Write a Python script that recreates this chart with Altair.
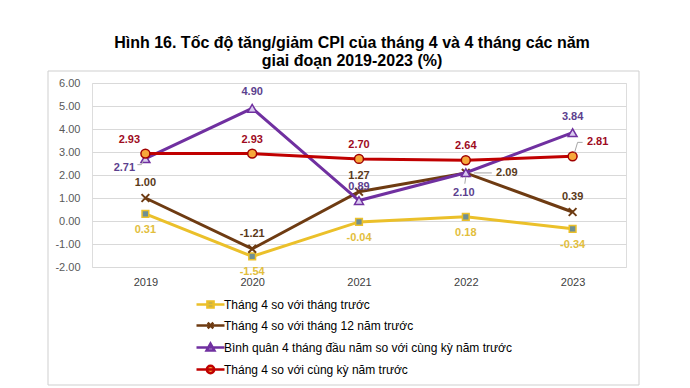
import altair as alt
import pandas as pd

years = ["2019", "2020", "2021", "2022", "2023"]
series_names = [
    "Tháng 4 so với tháng trước",
    "Tháng 4 so với tháng 12 năm trước",
    "Bình quân 4 tháng đầu năm so với cùng kỳ năm trước",
    "Tháng 4 so với cùng kỳ năm trước",
]
s_month = [0.31, -1.54, -0.04, 0.18, -0.34]
s_dec = [1.00, -1.21, 1.27, 2.09, 0.39]
s_avg = [2.71, 4.90, 0.89, 2.10, 3.84]
s_yoy = [2.93, 2.93, 2.70, 2.64, 2.81]
y_ticks = [-2, -1, 0, 1, 2, 3, 4, 5, 6]

values = [s_month, s_dec, s_avg, s_yoy]
rows = []
for name, vals in zip(series_names, values):
    for yr, v in zip(years, vals):
        rows.append({"series": name, "year": yr, "value": v})
df = pd.DataFrame(rows)

line_colors = ["#EBC02A", "#6E3B12", "#7030A0", "#C00000"]
label_colors = ["#E2BE3C", "#5A3A1A", "#5C3F8E", "#9E0B1E"]
marker_fill = ["#6F8F93", "#6E3B12", "#D9CBEF", "#F7A83B"]
marker_stroke = ["#EBC02A", "#6E3B12", "#7030A0", "#A00000"]
marker_shape = ["square", "M-1,-1L1,1M-1,1L1,-1", "triangle-up", "circle"]
marker_size = [45, 60, 80, 80]
legend_paths = [
    "M-2,0L2,0M-0.44,-0.44H0.44V0.44H-0.44Z",
    "M-2,0L2,0M-0.4,-0.4L0.4,0.4M-0.4,0.4L0.4,-0.4",
    "M-2,0L2,0M0,-0.56L0.56,0.44L-0.56,0.44Z",
    "M-2,0L2,0M-0.52,0A0.52,0.52 0 1,0 0.52,0A0.52,0.52 0 1,0 -0.52,0Z",
]

FONT = "Liberation Sans"
xscale = alt.Scale(type="point", padding=0.5)
xenc = alt.X("year:N", scale=xscale,
             axis=alt.Axis(title=None, labelAngle=0, domain=False, ticks=False,
                           labelPadding=9, labelFontSize=11, labelColor="#404040",
                           labelFont=FONT, grid=False))
yscale = alt.Scale(domain=[-2, 6], nice=False, zero=False)
yenc = alt.Y("value:Q", scale=yscale,
             axis=alt.Axis(title=None, values=y_ticks, domain=False, ticks=False,
                           labelExpr="replace(format(datum.value, '.2f'), '\u2212', '-')",
                           labelPadding=12, labelFontSize=11, tickCount=9,
                           labelColor="#595959", labelFont=FONT, gridColor="#D9D9D9",
                           gridWidth=1, labelOverlap=False))

base = alt.Chart(df).transform_calculate(
    lbl="replace(format(datum.value, '.2f'), '\u2212', '-')"
)

layers = []

# axis carrier (gridlines)
axis_layer = base.mark_line(opacity=0).encode(x=xenc, y=yenc, detail="series:N")
layers.append(axis_layer)

# decorative frame around the figure, anchored to the plot's own scale ends
one = base.transform_filter(
    (alt.datum.series == series_names[0]) & (alt.datum.year == years[0]))
frame = one.mark_rect(filled=False, stroke="#CFCFCF", strokeWidth=1,
                      xOffset=-97.4, x2Offset=66.4, yOffset=-12, y2Offset=118).encode(
    x=alt.X(datum=years[0], type="nominal", scale=xscale),
    x2=alt.X2(datum=years[-1]),
    y=alt.Y(datum=max(y_ticks), type="quantitative", scale=yscale),
    y2=alt.Y2(datum=min(y_ticks)),
)
layers.append(frame)

for i, name in enumerate(series_names):
    sub = base.transform_filter(alt.datum.series == name)
    layers.append(sub.mark_line(color=line_colors[i], strokeWidth=3).encode(x=xenc, y=yenc))
    filled = i != 1
    pt = sub.mark_point(shape=marker_shape[i], size=marker_size[i], filled=filled,
                        fill=marker_fill[i] if filled else "transparent",
                        stroke=marker_stroke[i], strokeWidth=1.5 if filled else 2,
                        opacity=1).encode(x=xenc, y=yenc)
    layers.append(pt)

# leader lines
def leader(name, year, xo, x2o, yo, y2o):
    return base.transform_filter(
        (alt.datum.series == name) & (alt.datum.year == year)
    ).mark_rule(color="#A6A6A6", strokeWidth=1, xOffset=xo, x2Offset=x2o,
                yOffset=yo, y2Offset=y2o).encode(
        x=xenc, x2="year:N", y=yenc, y2="value:Q")

layers.append(leader(series_names[1], "2022", 8, 26, 0, 0))
layers.append(leader(series_names[2], "2022", 0, -1, 4, 11))
layers.append(leader(series_names[2], "2019", -8, -4, 6, 6))
layers.append(leader(series_names[2], "2019", -4, -2, 6, 2))
layers.append(leader(series_names[3], "2023", 2, 5, -4, -14))
layers.append(leader(series_names[3], "2023", 5, 10, -14, -14))

# data labels
def labels(i, dx, dy, only=None, exclude=()):
    f = alt.datum.series == series_names[i]
    if only is not None:
        f = f & (alt.datum.year == only)
    for ex in exclude:
        f = f & (alt.datum.year != ex)
    return base.transform_filter(f).mark_text(
        font=FONT, fontSize=11, fontWeight="bold", color=label_colors[i],
        dx=dx, dy=dy, baseline="middle", align="center"
    ).encode(x=xenc, y=yenc, text="lbl:N")

layers.append(labels(0, 0, 16))
layers.append(labels(1, 0, -15, exclude=["2022", "2021"]))
layers.append(labels(1, 0, -16, only="2021"))
layers.append(labels(1, 41, 0, only="2022"))
layers.append(labels(2, 0, -16, exclude=["2019", "2022", "2021"]))
layers.append(labels(2, 0, -14, only="2021"))
layers.append(labels(2, -21, 9, only="2019"))
layers.append(labels(2, -2, 20, only="2022"))
layers.append(labels(3, 0, -14, exclude=["2019", "2023"]))
layers.append(labels(3, -16, -14, only="2019"))
layers.append(labels(3, 25, -14, only="2023"))

# legend carrier (no visible marks)
legend_layer = base.transform_filter("false").mark_point(opacity=1, filled=False).encode(
    x=xenc, y=yenc,
    stroke=alt.Stroke("series:N", scale=alt.Scale(domain=series_names, range=line_colors),
                      legend=alt.Legend(title=None, orient="none", legendX=110, legendY=213,
                                        labelFont=FONT, labelFontSize=12, labelColor="#000000",
                                        symbolSize=196, symbolStrokeWidth=2.5,
                                        labelOffset=5, rowPadding=4, labelLimit=400)),
    fill=alt.Fill("series:N", scale=alt.Scale(domain=series_names, range=marker_fill)),
    shape=alt.Shape("series:N", scale=alt.Scale(domain=series_names, range=legend_paths)),
)
layers.append(legend_layer)

chart = alt.layer(*layers).properties(
    width=534, height=184,
    title=alt.TitleParams(
        ["Hình 16. Tốc độ tăng/giảm CPI của tháng 4 và 4 tháng các năm",
         "giai đoạn 2019-2023 (%)"],
        font=FONT, fontSize=16, fontWeight="bold", color="#000000",
        anchor="middle", lineHeight=18, offset=2, dx=-7),
    autosize=alt.AutoSizeParams(type="none"),
    padding={"left": 84, "top": 75, "right": 50, "bottom": 120},
).configure_view(stroke=None).configure(background="#FFFFFF")

chart.save("out.html", embed_options={"renderer": "svg", "actions": False})
